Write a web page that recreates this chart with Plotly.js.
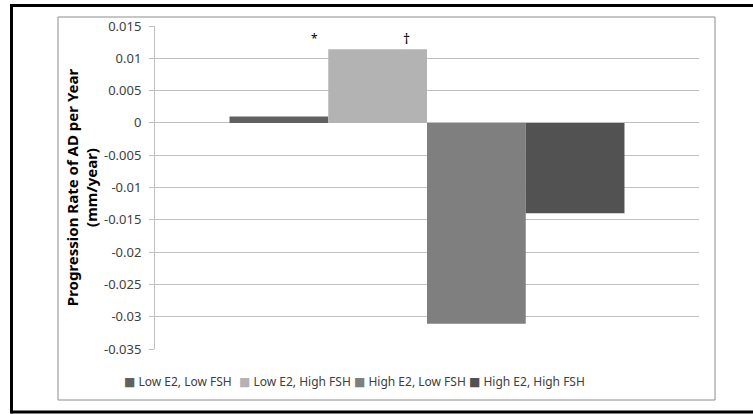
<!DOCTYPE html>
<html>
<head>
<meta charset="utf-8">
<script src="https://cdn.plot.ly/plotly-3.0.1.min.js"></script>
<style>html,body{margin:0;padding:0;background:#fff;overflow:hidden;}#chart{width:753px;height:414px;}</style>
</head>
<body>
<div id="chart"></div>
<script>
var category = ["Group"];
var seriesNames = ["Low E2, Low FSH", "Low E2, High FSH", "High E2, Low FSH", "High E2, High FSH"];
var lowE2LowFSH = [0.001];
var lowE2HighFSH = [0.0114];
var highE2LowFSH = [-0.0311];
var highE2HighFSH = [-0.0140];
var seriesColors = ["#606060", "#b3b3b3", "#7f7f7f", "#525252"];
var yTickVals = [0.015, 0.01, 0.005, 0, -0.005, -0.01, -0.015, -0.02, -0.025, -0.03, -0.035];
var yTickText = ["0.015", "0.01", "0.005", "0", "-0.005", "-0.01", "-0.015", "-0.02", "-0.025", "-0.03", "-0.035"];

var allValues = [lowE2LowFSH, lowE2HighFSH, highE2LowFSH, highE2HighFSH];
var traces = allValues.map(function (vals, i) {
  return {
    type: "bar",
    name: seriesNames[i],
    x: category,
    y: vals,
    marker: {color: seriesColors[i], line: {width: 0}},
    showlegend: false,
    hoverinfo: "skip"
  };
});
// legend entries: square glyph in series colour followed by the name
seriesNames.forEach(function (nm, i) {
  traces.push({
    type: "scatter",
    mode: "none",
    x: [category[0]],
    y: [null],
    name: '<span style="color:' + seriesColors[i] + ';font-family:DejaVu Sans">■</span> ' + nm,
    showlegend: true,
    legendwidth: (i === seriesNames.length - 1) ? 130 : 70,
    hoverinfo: "skip"
  });
});

// pixel helpers for paper coordinates (plot area 155..699 x, 26..349 y)
var L = 155, R = 699, T = 26, B = 349;
function px(x) { return (x - L) / (R - L); }
function py(y) { return (B - y) / (B - T); }

var layout = {
  width: 753, height: 414,
  margin: {l: L, r: 753 - R, t: T, b: 414 - B},
  paper_bgcolor: "#ffffff",
  plot_bgcolor: "#ffffff",
  barmode: "group",
  bargap: 0.274,
  bargroupgap: 0,
  font: {family: "Noto Sans, sans-serif", color: "#404040", size: 12},
  showlegend: true,
  legend: {
    orientation: "h",
    x: px(84), xanchor: "left",
    y: py(381), yanchor: "middle",
    font: {size: 12, color: "#404040"},
    itemwidth: 30,
    entrywidth: 70, entrywidthmode: "pixels",
    bgcolor: "rgba(0,0,0,0)"
  },
  xaxis: {
    showticklabels: false, showgrid: false, zeroline: false, showline: false, ticks: "",
    fixedrange: true
  },
  yaxis: {
    range: [-0.035, 0.015],
    tickvals: yTickVals, ticktext: yTickText,
    tickfont: {size: 13, color: "#404040"},
    showgrid: true, gridcolor: "#c0c0c0", gridwidth: 1,
    zeroline: true, zerolinecolor: "#c0c0c0", zerolinewidth: 1,
    showline: true, linecolor: "#c0c0c0", linewidth: 1,
    ticks: "outside", ticklen: 5, tickcolor: "#c0c0c0",
    ticklabelstandoff: 5,
    title: {
      text: "<b>Progression Rate of AD per Year<br>(mm/year)</b>",
      font: {size: 15, color: "#000000"},
      standoff: 2
    },
    automargin: false
  },
  shapes: [
    {type: "rect", xref: "paper", yref: "paper", x0: px(58), x1: px(715), y0: py(17), y1: py(400),
     line: {color: "#8c8c8c", width: 1}, fillcolor: "rgba(0,0,0,0)", layer: "below"},
    {type: "line", xref: "paper", yref: "paper", x0: px(11.5), x1: px(753), y0: py(5.5), y1: py(5.5),
     line: {color: "#000000", width: 3}},
    {type: "line", xref: "paper", yref: "paper", x0: px(11.5), x1: px(753), y0: py(412), y1: py(412),
     line: {color: "#000000", width: 3}},
    {type: "line", xref: "paper", yref: "paper", x0: px(11.5), x1: px(11.5), y0: py(4), y1: py(413.5),
     line: {color: "#000000", width: 3}}
  ],
  annotations: [
    {text: "*", xref: "paper", yref: "paper", x: px(309), y: py(28), showarrow: false,
     font: {size: 12, color: "#000000"}},
    {text: "†", xref: "paper", yref: "paper", x: px(406), y: py(27), showarrow: false,
     font: {size: 14, color: "#000000"}}
  ]
};

Plotly.newPlot("chart", traces, layout, {staticPlot: true, displayModeBar: false});
</script>
</body>
</html>
